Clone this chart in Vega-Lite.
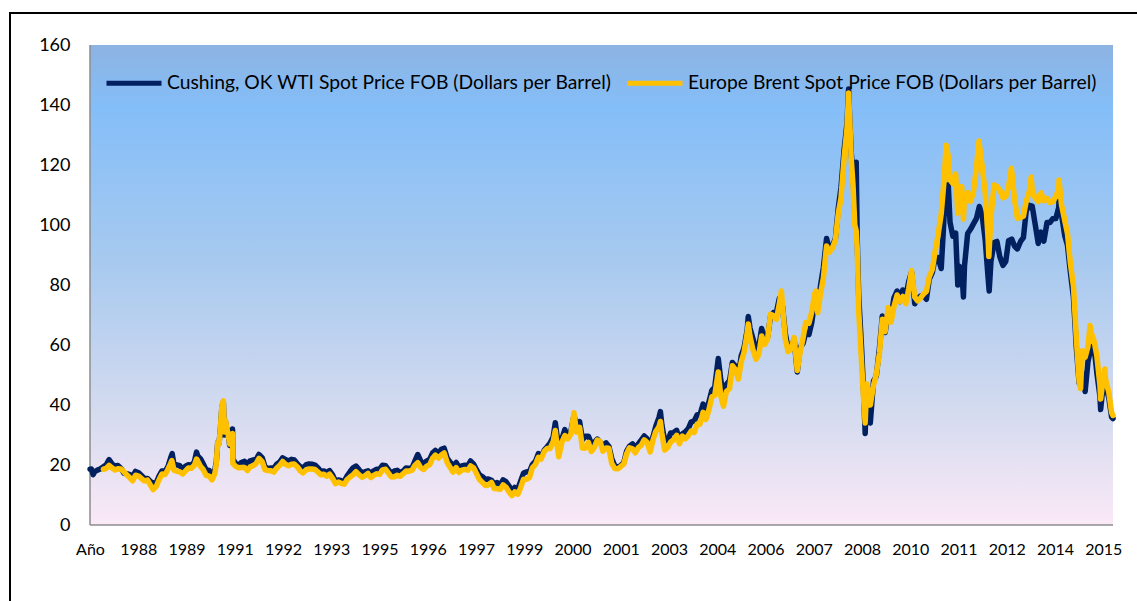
{
  "$schema": "https://vega.github.io/schema/vega-lite/v6.json",
  "width": 1127,
  "height": 588,
  "autosize": {"type": "none"},
  "padding": {"left": 10, "top": 13, "right": 0, "bottom": 0},
  "background": "white",
  "config": {"view": {"stroke": "#000000", "strokeWidth": 2, "strokeDash": [1127, 1715, 588]}},
  "datasets": {
    "wti": [
      {"t":1987.00,"p":18.6},{"t":1987.04,"p":18.65},{"t":1987.09,"p":16.8},{"t":1987.13,"p":17.75},{"t":1987.21,"p":18.3},{"t":1987.29,"p":18.68},{"t":1987.38,"p":19.44},{"t":1987.46,"p":20.07},{"t":1987.54,"p":21.8},{"t":1987.63,"p":20.31},{"t":1987.71,"p":19.53},{"t":1987.79,"p":19.86},{"t":1987.88,"p":18.85},{"t":1987.96,"p":17.28},
      {"t":1988.04,"p":17.13},{"t":1988.13,"p":16.8},{"t":1988.21,"p":16.2},{"t":1988.29,"p":17.86},{"t":1988.38,"p":17.42},{"t":1988.46,"p":16.53},{"t":1988.54,"p":15.5},{"t":1988.63,"p":15.52},{"t":1988.71,"p":14.54},{"t":1988.79,"p":13.77},{"t":1988.88,"p":14.14},{"t":1988.96,"p":16.38},
      {"t":1989.04,"p":18.02},{"t":1989.13,"p":17.94},{"t":1989.21,"p":19.48},{"t":1989.29,"p":22.5},{"t":1989.33,"p":23.8},{"t":1989.38,"p":20.12},{"t":1989.46,"p":20.05},{"t":1989.54,"p":19.78},{"t":1989.63,"p":18.58},{"t":1989.71,"p":19.59},{"t":1989.79,"p":20.1},{"t":1989.88,"p":19.86},{"t":1989.96,"p":21.1},
      {"t":1990.02,"p":24.3},{"t":1990.06,"p":22.9},{"t":1990.13,"p":22.11},{"t":1990.21,"p":20.39},{"t":1990.29,"p":18.43},{"t":1990.38,"p":18.2},{"t":1990.46,"p":16.7},{"t":1990.54,"p":18.45},{"t":1990.58,"p":21.0},{"t":1990.62,"p":27.5},{"t":1990.66,"p":27.3},{"t":1990.70,"p":32.5},{"t":1990.74,"p":39.5},{"t":1990.78,"p":41.0},{"t":1990.81,"p":30.0},{"t":1990.84,"p":34.5},{"t":1990.88,"p":31.5},{"t":1990.92,"p":30.0},{"t":1990.96,"p":26.5},
      {"t":1991.02,"p":28.0},{"t":1991.04,"p":32.0},{"t":1991.05,"p":22.0},{"t":1991.13,"p":20.48},{"t":1991.21,"p":19.9},{"t":1991.29,"p":20.83},{"t":1991.38,"p":21.23},{"t":1991.46,"p":20.19},{"t":1991.54,"p":21.4},{"t":1991.63,"p":21.69},{"t":1991.71,"p":21.89},{"t":1991.79,"p":23.5},{"t":1991.88,"p":22.46},{"t":1991.96,"p":19.5},
      {"t":1992.04,"p":18.79},{"t":1992.13,"p":19.01},{"t":1992.21,"p":18.92},{"t":1992.29,"p":20.23},{"t":1992.38,"p":20.98},{"t":1992.46,"p":22.37},{"t":1992.54,"p":21.78},{"t":1992.63,"p":21.34},{"t":1992.71,"p":21.88},{"t":1992.79,"p":21.69},{"t":1992.88,"p":20.34},{"t":1992.96,"p":19.41},
      {"t":1993.04,"p":19.03},{"t":1993.13,"p":20.09},{"t":1993.21,"p":20.32},{"t":1993.29,"p":20.25},{"t":1993.38,"p":19.95},{"t":1993.46,"p":19.09},{"t":1993.54,"p":17.89},{"t":1993.63,"p":18.01},{"t":1993.71,"p":17.5},{"t":1993.79,"p":18.15},{"t":1993.88,"p":16.61},{"t":1993.96,"p":14.52},
      {"t":1994.04,"p":15.03},{"t":1994.13,"p":14.78},{"t":1994.21,"p":14.68},{"t":1994.29,"p":16.42},{"t":1994.38,"p":17.89},{"t":1994.46,"p":19.06},{"t":1994.54,"p":19.66},{"t":1994.63,"p":18.38},{"t":1994.71,"p":17.45},{"t":1994.79,"p":17.72},{"t":1994.88,"p":18.07},{"t":1994.96,"p":17.16},
      {"t":1995.04,"p":18.04},{"t":1995.13,"p":18.57},{"t":1995.21,"p":18.54},{"t":1995.29,"p":19.9},{"t":1995.38,"p":19.74},{"t":1995.46,"p":18.45},{"t":1995.54,"p":17.33},{"t":1995.63,"p":18.02},{"t":1995.71,"p":18.23},{"t":1995.79,"p":17.43},{"t":1995.88,"p":17.99},{"t":1995.96,"p":19.03},
      {"t":1996.04,"p":18.86},{"t":1996.13,"p":19.09},{"t":1996.21,"p":21.33},{"t":1996.29,"p":23.5},{"t":1996.38,"p":21.17},{"t":1996.46,"p":20.42},{"t":1996.54,"p":21.3},{"t":1996.63,"p":21.9},{"t":1996.71,"p":23.97},{"t":1996.79,"p":24.88},{"t":1996.88,"p":23.71},{"t":1996.96,"p":25.23},
      {"t":1997.04,"p":25.6},{"t":1997.13,"p":22.18},{"t":1997.21,"p":20.97},{"t":1997.29,"p":19.7},{"t":1997.38,"p":20.82},{"t":1997.46,"p":19.26},{"t":1997.54,"p":19.66},{"t":1997.63,"p":19.95},{"t":1997.71,"p":19.8},{"t":1997.79,"p":21.33},{"t":1997.88,"p":20.19},{"t":1997.96,"p":18.33},
      {"t":1998.04,"p":16.72},{"t":1998.13,"p":16.06},{"t":1998.21,"p":15.12},{"t":1998.29,"p":15.35},{"t":1998.38,"p":14.91},{"t":1998.46,"p":13.72},{"t":1998.54,"p":14.17},{"t":1998.63,"p":13.47},{"t":1998.71,"p":15.03},{"t":1998.79,"p":14.46},{"t":1998.88,"p":13.0},{"t":1998.96,"p":11.35},
      {"t":1999.04,"p":12.52},{"t":1999.13,"p":12.01},{"t":1999.21,"p":14.68},{"t":1999.29,"p":17.31},{"t":1999.38,"p":17.72},{"t":1999.46,"p":17.92},{"t":1999.54,"p":20.1},{"t":1999.63,"p":21.28},{"t":1999.71,"p":23.8},{"t":1999.79,"p":22.69},{"t":1999.88,"p":25.0},{"t":1999.96,"p":26.1},
      {"t":2000.04,"p":27.26},{"t":2000.13,"p":29.37},{"t":2000.19,"p":34.1},{"t":2000.23,"p":30.5},{"t":2000.29,"p":25.72},{"t":2000.38,"p":28.79},{"t":2000.46,"p":31.82},{"t":2000.54,"p":29.7},{"t":2000.63,"p":31.26},{"t":2000.72,"p":36.5},{"t":2000.79,"p":33.11},{"t":2000.88,"p":34.42},{"t":2000.96,"p":28.44},
      {"t":2001.04,"p":29.59},{"t":2001.13,"p":29.61},{"t":2001.21,"p":27.24},{"t":2001.29,"p":27.49},{"t":2001.38,"p":28.63},{"t":2001.46,"p":27.6},{"t":2001.54,"p":26.43},{"t":2001.63,"p":27.37},{"t":2001.71,"p":26.2},{"t":2001.79,"p":22.17},{"t":2001.88,"p":19.64},{"t":2001.96,"p":19.39},
      {"t":2002.04,"p":19.72},{"t":2002.13,"p":20.72},{"t":2002.21,"p":24.53},{"t":2002.29,"p":26.18},{"t":2002.38,"p":27.04},{"t":2002.46,"p":25.52},{"t":2002.54,"p":26.97},{"t":2002.63,"p":28.39},{"t":2002.71,"p":29.66},{"t":2002.79,"p":28.84},{"t":2002.88,"p":26.35},{"t":2002.96,"p":29.46},
      {"t":2003.04,"p":32.95},{"t":2003.13,"p":35.83},{"t":2003.17,"p":37.8},{"t":2003.21,"p":33.51},{"t":2003.29,"p":28.17},{"t":2003.38,"p":28.11},{"t":2003.46,"p":30.66},{"t":2003.54,"p":30.76},{"t":2003.63,"p":31.57},{"t":2003.71,"p":28.31},{"t":2003.79,"p":30.34},{"t":2003.88,"p":31.11},{"t":2003.96,"p":32.13},
      {"t":2004.04,"p":34.31},{"t":2004.13,"p":34.69},{"t":2004.21,"p":36.74},{"t":2004.29,"p":36.75},{"t":2004.38,"p":40.28},{"t":2004.46,"p":38.03},{"t":2004.54,"p":40.78},{"t":2004.63,"p":44.9},{"t":2004.71,"p":45.94},{"t":2004.81,"p":55.5},{"t":2004.88,"p":48.47},{"t":2004.96,"p":43.15},
      {"t":2005.04,"p":46.84},{"t":2005.13,"p":48.15},{"t":2005.21,"p":54.19},{"t":2005.29,"p":52.98},{"t":2005.38,"p":49.83},{"t":2005.46,"p":56.35},{"t":2005.54,"p":59.0},{"t":2005.63,"p":64.99},{"t":2005.66,"p":69.5},{"t":2005.71,"p":65.59},{"t":2005.79,"p":62.26},{"t":2005.88,"p":58.32},{"t":2005.96,"p":59.41},
      {"t":2006.04,"p":65.49},{"t":2006.13,"p":61.63},{"t":2006.21,"p":62.69},{"t":2006.29,"p":69.44},{"t":2006.38,"p":70.84},{"t":2006.46,"p":70.95},{"t":2006.54,"p":75.5},{"t":2006.63,"p":73.04},{"t":2006.71,"p":63.8},{"t":2006.79,"p":58.89},{"t":2006.88,"p":59.08},{"t":2006.96,"p":61.96},
      {"t":2007.05,"p":51.0},{"t":2007.13,"p":59.28},{"t":2007.21,"p":60.44},{"t":2007.29,"p":63.98},{"t":2007.38,"p":63.46},{"t":2007.46,"p":67.49},{"t":2007.54,"p":74.12},{"t":2007.58,"p":77.0},{"t":2007.63,"p":72.36},{"t":2007.71,"p":79.92},{"t":2007.79,"p":85.8},{"t":2007.88,"p":95.5},{"t":2007.96,"p":91.69},
      {"t":2008.04,"p":92.97},{"t":2008.13,"p":95.39},{"t":2008.21,"p":105.45},{"t":2008.29,"p":112.58},{"t":2008.38,"p":125.4},{"t":2008.46,"p":133.88},{"t":2008.505,"p":145.3},{"t":2008.54,"p":134.0},{"t":2008.58,"p":124.0},{"t":2008.63,"p":116.67},{"t":2008.68,"p":104.0},{"t":2008.72,"p":120.9},{"t":2008.75,"p":95.0},{"t":2008.79,"p":76.61},{"t":2008.88,"p":57.31},{"t":2008.93,"p":44.0},{"t":2008.975,"p":30.5},
      {"t":2009.02,"p":46.0},{"t":2009.08,"p":37.0},{"t":2009.12,"p":34.0},{"t":2009.21,"p":47.94},{"t":2009.29,"p":49.65},{"t":2009.38,"p":59.03},{"t":2009.46,"p":69.64},{"t":2009.54,"p":64.15},{"t":2009.63,"p":71.05},{"t":2009.71,"p":69.41},{"t":2009.79,"p":75.72},{"t":2009.88,"p":77.99},{"t":2009.96,"p":74.47},
      {"t":2010.04,"p":78.33},{"t":2010.13,"p":76.39},{"t":2010.21,"p":81.2},{"t":2010.29,"p":84.29},{"t":2010.38,"p":73.74},{"t":2010.46,"p":75.34},{"t":2010.54,"p":76.32},{"t":2010.63,"p":76.6},{"t":2010.71,"p":75.24},{"t":2010.79,"p":81.89},{"t":2010.88,"p":84.25},{"t":2010.96,"p":89.15},
      {"t":2011.04,"p":89.17},{"t":2011.13,"p":85.5},{"t":2011.19,"p":98.0},{"t":2011.21,"p":102.86},{"t":2011.29,"p":109.53},{"t":2011.33,"p":113.4},{"t":2011.38,"p":100.9},{"t":2011.46,"p":96.26},{"t":2011.54,"p":97.3},{"t":2011.60,"p":80.0},{"t":2011.63,"p":86.33},{"t":2011.71,"p":85.52},{"t":2011.76,"p":76.0},{"t":2011.79,"p":86.32},{"t":2011.88,"p":97.16},{"t":2011.96,"p":98.56},
      {"t":2012.04,"p":100.27},{"t":2012.13,"p":102.2},{"t":2012.21,"p":106.16},{"t":2012.29,"p":103.32},{"t":2012.38,"p":94.66},{"t":2012.46,"p":82.3},{"t":2012.49,"p":78.0},{"t":2012.54,"p":87.9},{"t":2012.63,"p":94.13},{"t":2012.71,"p":94.51},{"t":2012.79,"p":89.49},{"t":2012.88,"p":86.53},{"t":2012.96,"p":87.86},
      {"t":2013.04,"p":94.76},{"t":2013.13,"p":95.31},{"t":2013.21,"p":92.94},{"t":2013.29,"p":92.02},{"t":2013.38,"p":94.51},{"t":2013.46,"p":95.77},{"t":2013.54,"p":104.67},{"t":2013.63,"p":106.57},{"t":2013.71,"p":106.29},{"t":2013.79,"p":100.54},{"t":2013.88,"p":93.86},{"t":2013.96,"p":97.63},
      {"t":2014.04,"p":94.62},{"t":2014.13,"p":100.82},{"t":2014.21,"p":100.8},{"t":2014.29,"p":102.07},{"t":2014.38,"p":102.18},{"t":2014.46,"p":105.79},{"t":2014.47,"p":107.9},{"t":2014.54,"p":103.59},{"t":2014.63,"p":96.54},{"t":2014.71,"p":93.21},{"t":2014.79,"p":84.4},{"t":2014.88,"p":75.79},{"t":2014.96,"p":59.29},
      {"t":2015.04,"p":47.22},{"t":2015.13,"p":50.58},{"t":2015.21,"p":44.5},{"t":2015.29,"p":54.45},{"t":2015.38,"p":59.27},{"t":2015.46,"p":59.82},{"t":2015.54,"p":50.9},{"t":2015.63,"p":42.87},{"t":2015.65,"p":38.5},{"t":2015.71,"p":45.48},{"t":2015.77,"p":49.5},{"t":2015.79,"p":46.22},{"t":2015.88,"p":42.44},{"t":2015.96,"p":36.0},{"t":2016.00,"p":35.5}
    ],
    "brent": [
      {"t":1987.38,"p":18.58},{"t":1987.46,"p":18.86},{"t":1987.54,"p":19.86},{"t":1987.63,"p":18.98},{"t":1987.71,"p":18.31},{"t":1987.79,"p":18.76},{"t":1987.88,"p":18.67},{"t":1987.96,"p":17.75},
      {"t":1988.04,"p":16.75},{"t":1988.13,"p":15.73},{"t":1988.21,"p":14.73},{"t":1988.29,"p":16.6},{"t":1988.38,"p":16.31},{"t":1988.46,"p":15.49},{"t":1988.54,"p":14.71},{"t":1988.63,"p":14.96},{"t":1988.71,"p":13.37},{"t":1988.79,"p":11.8},{"t":1988.88,"p":12.9},{"t":1988.96,"p":15.15},
      {"t":1989.04,"p":16.99},{"t":1989.13,"p":16.82},{"t":1989.21,"p":18.59},{"t":1989.29,"p":20.65},{"t":1989.32,"p":21.5},{"t":1989.38,"p":18.28},{"t":1989.46,"p":17.94},{"t":1989.54,"p":17.76},{"t":1989.63,"p":17.01},{"t":1989.71,"p":18.04},{"t":1989.79,"p":19.03},{"t":1989.88,"p":18.94},{"t":1989.96,"p":19.96},
      {"t":1990.02,"p":22.0},{"t":1990.06,"p":21.19},{"t":1990.13,"p":19.58},{"t":1990.21,"p":18.46},{"t":1990.29,"p":16.59},{"t":1990.38,"p":16.32},{"t":1990.46,"p":15.05},{"t":1990.54,"p":17.13},{"t":1990.58,"p":20.5},{"t":1990.62,"p":27.5},{"t":1990.66,"p":27.0},{"t":1990.70,"p":33.0},{"t":1990.74,"p":40.0},{"t":1990.78,"p":41.4},{"t":1990.81,"p":31.0},{"t":1990.84,"p":35.0},{"t":1990.88,"p":32.0},{"t":1990.92,"p":30.0},{"t":1990.96,"p":27.0},
      {"t":1991.02,"p":27.5},{"t":1991.04,"p":30.5},{"t":1991.05,"p":20.5},{"t":1991.13,"p":19.54},{"t":1991.21,"p":19.08},{"t":1991.29,"p":19.18},{"t":1991.38,"p":19.19},{"t":1991.46,"p":18.17},{"t":1991.54,"p":19.4},{"t":1991.63,"p":19.77},{"t":1991.71,"p":20.5},{"t":1991.79,"p":22.21},{"t":1991.88,"p":21.11},{"t":1991.96,"p":18.41},
      {"t":1992.04,"p":18.16},{"t":1992.13,"p":18.05},{"t":1992.21,"p":17.63},{"t":1992.29,"p":18.92},{"t":1992.38,"p":19.89},{"t":1992.46,"p":21.16},{"t":1992.54,"p":20.25},{"t":1992.63,"p":19.74},{"t":1992.71,"p":20.27},{"t":1992.79,"p":20.32},{"t":1992.88,"p":19.34},{"t":1992.96,"p":18.04},
      {"t":1993.04,"p":17.37},{"t":1993.13,"p":18.43},{"t":1993.21,"p":18.66},{"t":1993.29,"p":18.68},{"t":1993.38,"p":18.51},{"t":1993.46,"p":17.64},{"t":1993.54,"p":16.75},{"t":1993.63,"p":16.95},{"t":1993.71,"p":16.26},{"t":1993.79,"p":16.93},{"t":1993.88,"p":15.44},{"t":1993.96,"p":13.8},
      {"t":1994.04,"p":14.31},{"t":1994.13,"p":13.84},{"t":1994.21,"p":13.6},{"t":1994.29,"p":15.17},{"t":1994.38,"p":16.08},{"t":1994.46,"p":16.76},{"t":1994.54,"p":17.76},{"t":1994.63,"p":16.69},{"t":1994.71,"p":15.92},{"t":1994.79,"p":16.35},{"t":1994.88,"p":17.17},{"t":1994.96,"p":15.85},
      {"t":1995.04,"p":16.53},{"t":1995.13,"p":17.06},{"t":1995.21,"p":16.86},{"t":1995.29,"p":18.38},{"t":1995.38,"p":18.56},{"t":1995.46,"p":17.32},{"t":1995.54,"p":16.04},{"t":1995.63,"p":16.1},{"t":1995.71,"p":16.58},{"t":1995.79,"p":16.22},{"t":1995.88,"p":17.1},{"t":1995.96,"p":17.96},
      {"t":1996.04,"p":17.92},{"t":1996.13,"p":18.26},{"t":1996.21,"p":19.83},{"t":1996.29,"p":20.77},{"t":1996.38,"p":19.03},{"t":1996.46,"p":18.51},{"t":1996.54,"p":19.56},{"t":1996.63,"p":20.16},{"t":1996.71,"p":22.24},{"t":1996.79,"p":23.28},{"t":1996.88,"p":22.3},{"t":1996.96,"p":23.34},
      {"t":1997.04,"p":24.0},{"t":1997.13,"p":20.65},{"t":1997.21,"p":19.2},{"t":1997.29,"p":17.63},{"t":1997.38,"p":19.13},{"t":1997.46,"p":17.51},{"t":1997.54,"p":18.27},{"t":1997.63,"p":18.52},{"t":1997.71,"p":18.26},{"t":1997.79,"p":19.7},{"t":1997.88,"p":18.97},{"t":1997.96,"p":17.04},
      {"t":1998.04,"p":15.13},{"t":1998.13,"p":14.12},{"t":1998.21,"p":13.18},{"t":1998.29,"p":13.35},{"t":1998.38,"p":14.2},{"t":1998.46,"p":12.15},{"t":1998.54,"p":12.09},{"t":1998.63,"p":11.9},{"t":1998.71,"p":13.38},{"t":1998.79,"p":12.64},{"t":1998.88,"p":11.0},{"t":1998.96,"p":9.82},
      {"t":1999.04,"p":11.07},{"t":1999.13,"p":10.27},{"t":1999.21,"p":12.51},{"t":1999.29,"p":15.29},{"t":1999.38,"p":15.23},{"t":1999.46,"p":15.86},{"t":1999.54,"p":19.08},{"t":1999.63,"p":20.22},{"t":1999.71,"p":22.54},{"t":1999.79,"p":22.0},{"t":1999.88,"p":24.58},{"t":1999.96,"p":25.5},
      {"t":2000.04,"p":25.51},{"t":2000.13,"p":27.78},{"t":2000.19,"p":31.5},{"t":2000.23,"p":27.49},{"t":2000.29,"p":22.76},{"t":2000.38,"p":27.74},{"t":2000.46,"p":29.8},{"t":2000.54,"p":28.68},{"t":2000.63,"p":30.2},{"t":2000.72,"p":37.4},{"t":2000.79,"p":30.96},{"t":2000.88,"p":32.55},{"t":2000.96,"p":25.66},
      {"t":2001.04,"p":25.62},{"t":2001.13,"p":27.5},{"t":2001.21,"p":24.5},{"t":2001.29,"p":25.66},{"t":2001.38,"p":28.31},{"t":2001.46,"p":27.85},{"t":2001.54,"p":24.61},{"t":2001.63,"p":25.68},{"t":2001.71,"p":25.62},{"t":2001.79,"p":20.54},{"t":2001.88,"p":18.8},{"t":2001.96,"p":18.71},
      {"t":2002.04,"p":19.42},{"t":2002.13,"p":20.28},{"t":2002.21,"p":23.7},{"t":2002.29,"p":25.73},{"t":2002.38,"p":25.35},{"t":2002.46,"p":24.08},{"t":2002.54,"p":25.74},{"t":2002.63,"p":26.65},{"t":2002.71,"p":28.4},{"t":2002.79,"p":27.54},{"t":2002.88,"p":24.34},{"t":2002.96,"p":28.33},
      {"t":2003.04,"p":31.18},{"t":2003.13,"p":32.77},{"t":2003.17,"p":34.5},{"t":2003.21,"p":30.61},{"t":2003.29,"p":25.0},{"t":2003.38,"p":25.86},{"t":2003.46,"p":27.65},{"t":2003.54,"p":28.35},{"t":2003.63,"p":29.89},{"t":2003.71,"p":27.11},{"t":2003.79,"p":29.61},{"t":2003.88,"p":28.75},{"t":2003.96,"p":29.81},
      {"t":2004.04,"p":31.28},{"t":2004.13,"p":30.86},{"t":2004.21,"p":33.63},{"t":2004.29,"p":33.59},{"t":2004.38,"p":37.57},{"t":2004.46,"p":35.18},{"t":2004.54,"p":38.22},{"t":2004.63,"p":42.74},{"t":2004.71,"p":43.2},{"t":2004.81,"p":51.0},{"t":2004.88,"p":43.11},{"t":2004.96,"p":39.6},
      {"t":2005.04,"p":44.51},{"t":2005.13,"p":45.48},{"t":2005.21,"p":53.1},{"t":2005.29,"p":51.88},{"t":2005.38,"p":48.65},{"t":2005.46,"p":54.35},{"t":2005.54,"p":57.52},{"t":2005.63,"p":63.98},{"t":2005.66,"p":67.0},{"t":2005.71,"p":62.91},{"t":2005.79,"p":58.54},{"t":2005.88,"p":55.24},{"t":2005.96,"p":56.86},
      {"t":2006.04,"p":62.99},{"t":2006.13,"p":60.21},{"t":2006.21,"p":62.06},{"t":2006.29,"p":70.26},{"t":2006.38,"p":69.78},{"t":2006.46,"p":68.56},{"t":2006.54,"p":73.67},{"t":2006.60,"p":78.0},{"t":2006.63,"p":73.23},{"t":2006.71,"p":61.96},{"t":2006.79,"p":57.81},{"t":2006.88,"p":58.76},{"t":2006.96,"p":62.47},
      {"t":2007.05,"p":51.5},{"t":2007.13,"p":57.56},{"t":2007.21,"p":62.05},{"t":2007.29,"p":67.49},{"t":2007.38,"p":67.21},{"t":2007.46,"p":71.05},{"t":2007.54,"p":76.93},{"t":2007.58,"p":78.0},{"t":2007.63,"p":70.76},{"t":2007.71,"p":77.17},{"t":2007.79,"p":82.34},{"t":2007.88,"p":93.0},{"t":2007.96,"p":90.93},
      {"t":2008.04,"p":92.18},{"t":2008.13,"p":94.99},{"t":2008.21,"p":103.64},{"t":2008.29,"p":109.07},{"t":2008.38,"p":122.8},{"t":2008.46,"p":132.32},{"t":2008.505,"p":144.0},{"t":2008.54,"p":134.0},{"t":2008.58,"p":122.0},{"t":2008.63,"p":113.24},{"t":2008.68,"p":100.0},{"t":2008.72,"p":98.0},{"t":2008.75,"p":92.0},{"t":2008.79,"p":71.58},{"t":2008.88,"p":52.45},{"t":2008.93,"p":42.0},{"t":2008.975,"p":34.0},
      {"t":2009.02,"p":47.0},{"t":2009.08,"p":43.0},{"t":2009.12,"p":40.0},{"t":2009.21,"p":46.54},{"t":2009.29,"p":50.18},{"t":2009.38,"p":57.3},{"t":2009.46,"p":68.61},{"t":2009.54,"p":64.44},{"t":2009.63,"p":72.51},{"t":2009.71,"p":67.65},{"t":2009.79,"p":72.77},{"t":2009.88,"p":76.66},{"t":2009.96,"p":74.46},
      {"t":2010.04,"p":76.17},{"t":2010.13,"p":73.75},{"t":2010.21,"p":78.83},{"t":2010.29,"p":84.82},{"t":2010.38,"p":75.95},{"t":2010.46,"p":74.76},{"t":2010.54,"p":75.58},{"t":2010.63,"p":77.04},{"t":2010.71,"p":77.84},{"t":2010.79,"p":82.67},{"t":2010.88,"p":85.28},{"t":2010.96,"p":91.45},
      {"t":2011.04,"p":96.52},{"t":2011.13,"p":103.72},{"t":2011.21,"p":114.64},{"t":2011.27,"p":126.6},{"t":2011.33,"p":123.0},{"t":2011.38,"p":114.99},{"t":2011.46,"p":113.83},{"t":2011.54,"p":116.97},{"t":2011.60,"p":104.0},{"t":2011.63,"p":110.22},{"t":2011.71,"p":112.83},{"t":2011.76,"p":102.0},{"t":2011.79,"p":109.55},{"t":2011.88,"p":110.77},{"t":2011.96,"p":107.87},
      {"t":2012.04,"p":110.69},{"t":2012.13,"p":119.33},{"t":2012.20,"p":128.0},{"t":2012.29,"p":119.75},{"t":2012.38,"p":110.34},{"t":2012.46,"p":95.16},{"t":2012.48,"p":89.5},{"t":2012.54,"p":102.62},{"t":2012.63,"p":113.36},{"t":2012.71,"p":112.86},{"t":2012.79,"p":111.71},{"t":2012.88,"p":109.06},{"t":2012.96,"p":109.49},
      {"t":2013.04,"p":112.96},{"t":2013.12,"p":118.9},{"t":2013.21,"p":108.47},{"t":2013.29,"p":102.25},{"t":2013.38,"p":102.56},{"t":2013.46,"p":102.92},{"t":2013.54,"p":107.93},{"t":2013.63,"p":111.28},{"t":2013.68,"p":116.0},{"t":2013.71,"p":111.6},{"t":2013.79,"p":109.08},{"t":2013.88,"p":107.79},{"t":2013.96,"p":110.76},
      {"t":2014.04,"p":108.12},{"t":2014.13,"p":108.9},{"t":2014.21,"p":107.48},{"t":2014.29,"p":107.76},{"t":2014.38,"p":109.54},{"t":2014.46,"p":111.8},{"t":2014.47,"p":115.0},{"t":2014.54,"p":106.77},{"t":2014.63,"p":101.61},{"t":2014.71,"p":97.09},{"t":2014.79,"p":87.43},{"t":2014.88,"p":79.44},{"t":2014.96,"p":62.34},
      {"t":2015.04,"p":47.76},{"t":2015.08,"p":45.5},{"t":2015.13,"p":58.1},{"t":2015.21,"p":55.89},{"t":2015.29,"p":59.52},{"t":2015.35,"p":66.5},{"t":2015.38,"p":64.08},{"t":2015.46,"p":61.48},{"t":2015.54,"p":56.56},{"t":2015.63,"p":46.52},{"t":2015.65,"p":42.0},{"t":2015.71,"p":47.62},{"t":2015.77,"p":52.0},{"t":2015.79,"p":48.43},{"t":2015.88,"p":44.27},{"t":2015.96,"p":37.5},{"t":2016.00,"p":36.5}
    ]
  },
  "layer": [
    {
      "data": {"values": [{}]},
      "mark": {
        "type": "rect",
        "color": {
          "gradient": "linear", "x1": 0, "y1": 0, "x2": 0, "y2": 1,
          "stops": [
            {"offset": 0, "color": "#8DB3E2"},
            {"offset": 0.13, "color": "#84BEF8"},
            {"offset": 0.45, "color": "#A7C9EF"},
            {"offset": 0.75, "color": "#D2DAEF"},
            {"offset": 1, "color": "#FBE9F7"}
          ]
        }
      },
      "encoding": {
        "x": {
          "datum": 1987, "type": "quantitative",
          "scale": {"domain": [1984.73216, 2016.68035], "nice": false, "zero": false},
          "axis": {
            "title": null,
            "offset": -76,
            "domain": false,
            "values": [1987.0, 1988.368, 1989.736, 1991.103, 1992.471, 1993.839, 1995.207, 1996.575, 1997.942, 1999.31, 2000.678, 2002.046, 2003.413, 2004.781, 2006.149, 2007.517, 2008.885, 2010.252, 2011.62, 2012.988, 2014.356, 2015.724],
            "labelExpr": "['Año','1988','1989','1991','1992','1993','1995','1996','1997','1999','2000','2001','2003','2004','2006','2007','2008','2010','2011','2012','2014','2015'][round((datum.value-1987)/1.36779)]",
            "ticks": false, "grid": false,
            "labelFont": "Lato", "labelFontSize": 16, "labelColor": "#000000",
            "labelPadding": 16, "labelFlush": false, "labelOverlap": false
          }
        },
        "x2": {"datum": 2016},
        "y": {
          "datum": 0, "type": "quantitative",
          "scale": {"domain": [-25.33333, 170.66667], "nice": false, "zero": false},
          "axis": {
            "title": null,
            "offset": -80,
            "domain": false,
            "values": [0, 20, 40, 60, 80, 100, 120, 140, 160],
            "ticks": false, "grid": false,
            "labelFont": "Lato", "labelFontSize": 18, "labelColor": "#000000",
            "labelPadding": 20
          }
        },
        "y2": {"datum": 160}
      }
    },
    {
      "data": {"values": [{}]},
      "mark": {"type": "rule", "color": "#8C8C8C", "strokeWidth": 1.5},
      "encoding": {
        "x": {"datum": 1987, "type": "quantitative"},
        "y": {"datum": 0, "type": "quantitative"},
        "y2": {"datum": 160}
      }
    },
    {
      "data": {"values": [{}]},
      "mark": {"type": "rule", "color": "#8C8C8C", "strokeWidth": 1.5},
      "encoding": {
        "x": {"datum": 1987, "type": "quantitative"},
        "x2": {"datum": 2016},
        "y": {"datum": 0, "type": "quantitative"}
      }
    },
    {
      "data": {"name": "wti"},
      "mark": {"type": "line", "strokeWidth": 5.5, "strokeCap": "round", "strokeJoin": "round"},
      "encoding": {
        "x": {"field": "t", "type": "quantitative", "title": null},
        "y": {"field": "p", "type": "quantitative", "title": null},
        "color": {
          "datum": "Cushing, OK WTI Spot Price FOB (Dollars per Barrel)",
          "scale": {
            "domain": ["Cushing, OK WTI Spot Price FOB (Dollars per Barrel)", "Europe Brent Spot Price FOB (Dollars per Barrel)"],
            "range": ["#002060", "#FFC000"]
          },
          "legend": {
            "title": null,
            "orient": "none",
            "legendX": 94,
            "legendY": 40,
            "direction": "horizontal",
            "symbolType": "stroke",
            "symbolSize": 3025,
            "symbolStrokeWidth": 5,
            "labelFont": "Lato",
            "labelFontSize": 19.3,
            "labelColor": "#000000",
            "labelOffset": 3,
            "columnPadding": 5,
            "labelLimit": 700
          }
        }
      }
    },
    {
      "data": {"name": "brent"},
      "mark": {"type": "line", "strokeWidth": 5.5, "strokeCap": "round", "strokeJoin": "round"},
      "encoding": {
        "x": {"field": "t", "type": "quantitative", "title": null},
        "y": {"field": "p", "type": "quantitative", "title": null},
        "color": {"datum": "Europe Brent Spot Price FOB (Dollars per Barrel)"}
      }
    }
  ]
}
